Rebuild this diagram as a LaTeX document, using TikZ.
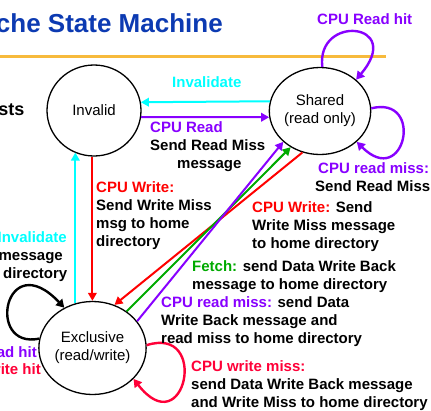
\documentclass[tikz,border=0pt]{standalone}
\usepackage{fontspec}
\setmainfont{Liberation Sans}
\usetikzlibrary{arrows.meta,shapes.geometric}
\definecolor{cpurple}{RGB}{136,0,255}
\definecolor{ccyan}{RGB}{0,255,255}
\definecolor{cred}{RGB}{255,0,0}
\definecolor{cpink}{RGB}{255,0,56}
\definecolor{cgreen}{RGB}{0,170,0}
\definecolor{ctitle}{RGB}{12,58,178}
\definecolor{corange}{RGB}{247,186,60}
\begin{document}
\begin{tikzpicture}[x=1pt,y=-1pt,
  state/.style={ellipse,draw,line width=1.3pt,inner sep=0pt,align=center,
    font=\fontsize{15}{18}\selectfont},
  conn/.style={line width=2pt,-{Triangle[length=8pt,width=8.5pt]}},
  loopc/.style={line width=2.4pt,-{Triangle[length=8pt,width=9pt]}},
  lbl/.style={anchor=base west,inner sep=0pt,font=\fontsize{15}{18}\selectfont\bfseries},
  lblr/.style={anchor=base east,inner sep=0pt,font=\fontsize{15}{18}\selectfont\bfseries},
]
\clip (0,0) rectangle (431,410);
\fill[white] (0,0) rectangle (431,410);

% title and rule
\node[anchor=base east,inner sep=0pt,font=\fontsize{26}{30}\selectfont\bfseries,text=ctitle] (title) at (223,32) {che State Machine};
\draw[corange,line width=3pt] (0,56) -- (386,56);
\node[anchor=base east,inner sep=0pt,font=\fontsize{18}{22}\selectfont\bfseries] (sts) at (24.5,115) {sts};

% states
\node[state,minimum width=94pt,minimum height=91pt] (inv) at (94,110.5) {Invalid};
\node[state,minimum width=94pt,minimum height=87pt] (sh) at (320,111) {Shared\\(read only)};
\node[state,minimum width=91pt,minimum height=93pt] (ex) at (92.5,348) {Exclusive\\(read/write)};

% Invalid <-> Shared
\draw[conn,ccyan] (sh.169.6) -- (inv.10.4);
\draw[conn,cpurple] (inv.352.7) -- (sh.187.3);
\node[lbl,text=ccyan] (l1) at (172,87) {Invalidate};
\node[lbl,text=cpurple] (l2) at (150,132) {CPU Read};
\node[lbl] (l3) at (150,150) {Send Read Miss};
\node[lbl] (l4) at (177,168) {message};

% Invalid <-> Exclusive
\draw[conn,cred] (inv.268) -- (inv.268 |- ex.north);
\draw[conn,ccyan] (ex.111) -- (ex.111 |- inv.245.5);
\node[lbl,text=cred] (l5) at (96,192) {CPU Write:};
\node[lbl] (l6) at (96,210) {Send Write Miss};
\node[lbl] (l7) at (96,228) {msg to home};
\node[lbl] (l8) at (96,246) {directory};
\node[lblr,text=ccyan] (l9) at (67,242) {Invalidate};
\node[lblr] (l10) at (63,260) {message};
\node[lblr] (l11) at (67.5,278) {directory};

% Shared <-> Exclusive diagonals
\draw[conn,cred] (sh.247.3) -- (ex.63.4);
\draw[conn,cgreen] (ex.47) -- (sh.231.3);
\draw[conn,cpurple] (ex.31.2) -- (sh.220.4);

% Shared loops
\draw[loopc,cpurple] (sh.87) .. controls (316,14) and (405,22) .. (sh.41);
\draw[loopc,cpurple] (sh.3) .. controls (425,95) and (405,190) .. (sh.320);
\node[lbl,text=cpurple] (l12) at (317,24) {CPU Read hit};
\node[lbl,text=cpurple] (l13) at (318,173) {CPU read miss:};
\node[lbl] (l14) at (315,191.5) {Send Read Miss};

% Exclusive loops
\draw[loopc,black] (ex.170) .. controls (-15,350) and (5,245) .. (ex.125.7);
\draw[loopc,cpink] (ex.3) .. controls (210,325) and (185,445) .. (ex.323);
\node[lblr,text=cpurple] (l15) at (37,357) {ad hit};
\node[lblr,text=cpink] (l16) at (41,374.5) {rite hit};

% right-hand labels
\node[lbl] (l17) at (252,212) {\textcolor{cred}{CPU Write:} Send};
\node[lbl] (l18) at (252,230) {Write Miss message};
\node[lbl] (l19) at (252,248) {to home directory};
\node[lbl] (l20) at (192,271) {\textcolor{cgreen}{Fetch:} send Data Write Back};
\node[lbl] (l21) at (192,289) {message to home directory};
\node[lbl] (l22) at (161,307) {\textcolor{cpurple}{CPU read miss:} send Data};
\node[lbl] (l23) at (161,325) {Write Back message and};
\node[lbl] (l24) at (161,343) {read miss to home directory};
\node[lbl,text=cpink] (l25) at (191,371) {CPU write miss:};
\node[lbl] (l26) at (191,389) {send Data Write Back message};
\node[lbl] (l27) at (191,407) {and Write Miss to home directory};
\end{tikzpicture}
\end{document}
